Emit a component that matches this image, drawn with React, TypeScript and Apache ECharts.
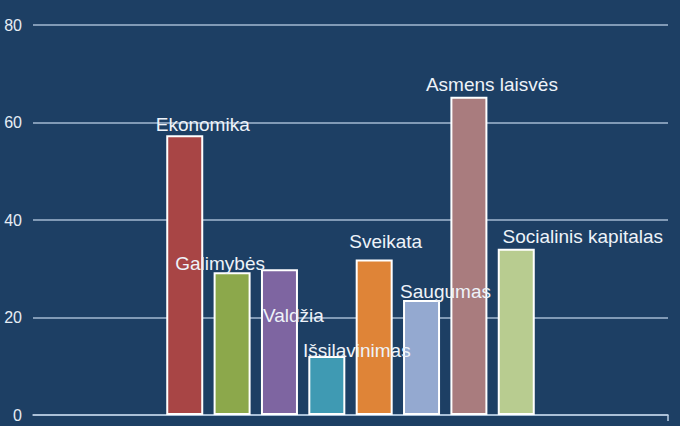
import React, { useEffect, useRef } from "react";
import * as echarts from "echarts";

const seriesNames = [
  "Ekonomika",
  "Galimybės",
  "Valdžia",
  "Išsilavinimas",
  "Sveikata",
  "Saugumas",
  "Asmens laisvės",
  "Socialinis kapitalas",
];
const seriesValues = [57.4, 29.3, 29.9, 12.1, 31.9, 23.6, 65.3, 34.1];
const seriesColors = [
  "#a84545",
  "#8ca84b",
  "#7e65a1",
  "#3f9ab3",
  "#df8437",
  "#94a9d0",
  "#a97c7e",
  "#b8cc90",
];
const labelOffsets: [number, number][] = [
  [18, -1.5],
  [-12, 0.5],
  [14, 56],
  [30, 3.5],
  [11.5, -8.5],
  [24, 1],
  [23, -3],
  [66.5, -3],
];
const yTicks = [0, 20, 40, 60, 80];

export default function App() {
  const ref = useRef<HTMLDivElement>(null);
  useEffect(() => {
    if (!ref.current) return;
    const chart = echarts.init(ref.current, undefined, { renderer: "svg" });
    chart.setOption({
      animation: false,
      backgroundColor: "#1d3f64",
      grid: { left: 33, right: 12, top: 25, bottom: 11, containLabel: false },
      xAxis: [
        {
          type: "category",
          data: [""],
          axisLine: { lineStyle: { color: "#b9cde2", width: 1.5 } },
          axisTick: { show: false },
          axisLabel: { show: false },
        },
        {
          type: "value",
          position: "bottom",
          min: 0,
          max: 1,
          axisLine: { show: false },
          axisTick: {
            show: true,
            length: 6,
            customValues: [1],
            lineStyle: { color: "#b9cde2", width: 1.5 },
          },
          axisLabel: { show: false },
          splitLine: { show: false },
        },
      ],
      yAxis: {
        type: "value",
        min: yTicks[0],
        max: yTicks[yTicks.length - 1],
        interval: 20,
        axisLine: { show: false },
        axisTick: { show: false },
        axisLabel: {
          color: "#e6edf5",
          fontSize: 16,
          fontFamily: "Liberation Sans, Arial, sans-serif",
          margin: 11,
        },
        splitLine: { lineStyle: { color: "#a3bad2", width: 1.5 } },
      },
      series: seriesNames.map((name, i) => ({
        type: "bar",
        name,
        xAxisIndex: 0,
        data: [seriesValues[i]],
        barWidth: 37,
        barGap: "28%",
        itemStyle: { color: seriesColors[i], borderColor: "#ffffff", borderWidth: 2 },
        label: {
          show: true,
          position: "top",
          distance: 0,
          offset: labelOffsets[i],
          formatter: name,
          color: "#eef3f9",
          fontSize: 19,
          fontFamily: "Liberation Sans, Arial, sans-serif",
        },
      })),
    });
    return () => chart.dispose();
  }, []);
  return (
    <div
      ref={ref}
      style={{ width: 680, height: 426, position: "absolute", left: 0, top: 0 }}
    />
  );
}
